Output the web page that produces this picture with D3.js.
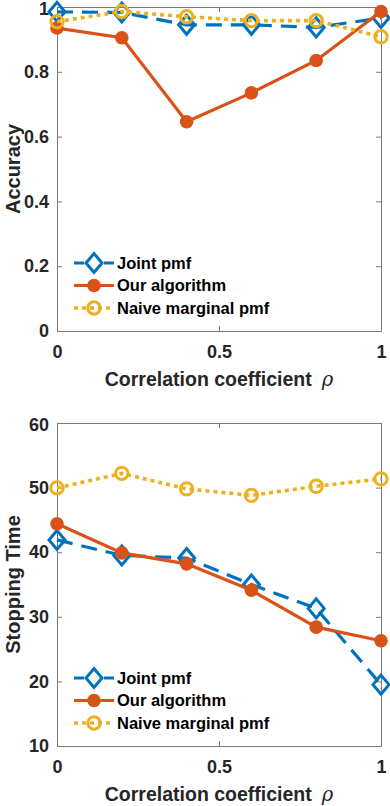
<!DOCTYPE html>
<html>
<head>
<meta charset="utf-8">
<script src="https://cdn.jsdelivr.net/npm/d3@7"></script>
<style>
  body { margin: 0; background: #fff; }
  svg { display: block; font-family: "Liberation Sans", Arial, Helvetica, sans-serif; }
  .tick text { font-size: 18px; font-weight: bold; fill: #262626; }
  .tick line, .domain { stroke: #7a7a7a; }
</style>
</head>
<body>
<div id="canvas"></div>
<script>
// x values (correlation coefficient)
const rho = [0, 0.2, 0.4, 0.6, 0.8, 1];
const seriesNames = ["Joint pmf", "Our algorithm", "Naive marginal pmf"];

// accuracy (top panel)
const accJoint = [0.985, 0.983, 0.945, 0.945, 0.937, 0.966];
const accOurs  = [0.935, 0.905, 0.646, 0.735, 0.835, 0.986];
const accNaive = [0.955, 0.986, 0.970, 0.958, 0.958, 0.908];

// stopping time (bottom panel)
const stopJoint = [41.9, 39.5, 39.1, 35.0, 31.3, 19.5];
const stopOurs  = [44.4, 39.9, 38.2, 34.1, 28.4, 26.3];
const stopNaive = [49.95, 52.2, 49.8, 48.8, 50.2, 51.35];

const xTicks = [0, 0.5, 1];
const accTicks = [0, 0.2, 0.4, 0.6, 0.8, 1];
const stopTicks = [10, 20, 30, 40, 50, 60];

const colors = ["#0072BD", "#D95319", "#EDB120"];

const width = 390, height = 806;
const svg = d3.select("#canvas").append("svg")
    .attr("width", width)
    .attr("height", height);

const x0 = 57, x1 = 381;

function panel(top, bottom, domain, ticks, ylabel, series) {
    const x = d3.scaleLinear().domain([0, 1]).range([x0, x1]);
    const y = d3.scaleLinear().domain(domain).range([bottom, top]);
    const g = svg.append("g");

    // box + inward ticks
    g.append("g").attr("transform", `translate(0,${bottom})`)
        .call(d3.axisBottom(x).tickValues(xTicks).tickFormat(d3.format("")).tickSizeInner(-5).tickSizeOuter(0).tickPadding(14));
    g.append("g").attr("transform", `translate(0,${top})`)
        .call(d3.axisTop(x).tickValues(xTicks).tickFormat("").tickSizeInner(-5).tickSizeOuter(0));
    const ya = g.append("g").attr("transform", `translate(${x0},0)`)
        .call(d3.axisLeft(y).tickValues(ticks).tickFormat(d3.format("")).tickSizeInner(-5).tickSizeOuter(0).tickPadding(8));
    g.append("g").attr("transform", `translate(${x1},0)`)
        .call(d3.axisRight(y).tickValues(ticks).tickFormat("").tickSizeInner(-5).tickSizeOuter(0));
    g.selectAll(".tick text").attr("font-family", null).attr("font-size", null);
    // keep the top label inside the page
    ya.selectAll(".tick text").filter(d => d == domain[1]).attr("dy", "0.42em");

    // labels
    const xl = g.append("text")
        .attr("x", (x0 + x1) / 2)
        .attr("y", bottom + 55)
        .attr("text-anchor", "middle")
        .style("font-size", "19.5px").style("font-weight", "bold").style("fill", "#262626");
    xl.append("tspan").text("Correlation coefficient");
    xl.append("tspan").attr("dx", 10).style("font-style", "italic").style("font-weight", "normal")
        .style("font-family", "'DejaVu Serif', serif").text("ρ");

    g.append("text")
        .attr("transform", `translate(20,${(top + bottom) / 2}) rotate(-90)`)
        .attr("text-anchor", "middle")
        .style("font-size", "20px").style("font-weight", "bold").style("fill", "#262626")
        .text(ylabel);

    const line = d3.line().x(d => x(d[0])).y(d => y(d[1]));
    const styles = [
        { dash: "16,9", width: 3.2 },
        { dash: null, width: 3.2 },
        { dash: "4,4", width: 3.6 }
    ];

    series.forEach((vals, i) => {
        const pts = rho.map((r, j) => [r, vals[j]]);
        g.append("path")
            .datum(pts)
            .attr("d", line)
            .attr("fill", "none")
            .attr("stroke", colors[i])
            .attr("stroke-width", styles[i].width)
            .attr("stroke-dasharray", styles[i].dash);
        pts.forEach(p => marker(g, i, x(p[0]), y(p[1])));
    });

    // legend
    const ly = [bottom - 68, bottom - 45.5, bottom - 23];
    seriesNames.forEach((name, i) => {
        g.append("line")
            .attr("x1", 74).attr("x2", 114)
            .attr("y1", ly[i]).attr("y2", ly[i])
            .attr("stroke", colors[i])
            .attr("stroke-width", styles[i].width)
            .attr("stroke-dasharray", i == 0 ? "10,20,10" : styles[i].dash);
        marker(g, i, 94, ly[i]);
        g.append("text")
            .attr("x", 117).attr("y", ly[i])
            .attr("dy", "0.36em")
            .style("font-size", "16.5px").style("font-weight", "bold").style("fill", "#000")
            .text(name);
    });
}

function marker(g, i, cx, cy) {
    if (i == 0) {
        g.append("path")
            .attr("d", `M${cx},${cy - 9.5}L${cx + 8},${cy}L${cx},${cy + 9.5}L${cx - 8},${cy}Z`)
            .attr("fill", "none")
            .attr("stroke", colors[0])
            .attr("stroke-width", 3);
    } else if (i == 1) {
        g.append("circle")
            .attr("cx", cx).attr("cy", cy).attr("r", 6.8)
            .attr("fill", colors[1]);
    } else {
        g.append("circle")
            .attr("cx", cx).attr("cy", cy).attr("r", 6.2)
            .attr("fill", "none")
            .attr("stroke", colors[2])
            .attr("stroke-width", 3);
    }
}

panel(7, 331, [0, 1], accTicks, "Accuracy", [accJoint, accOurs, accNaive]);
panel(423, 746, [10, 60], stopTicks, "Stopping Time", [stopJoint, stopOurs, stopNaive]);
</script>
</body>
</html>
